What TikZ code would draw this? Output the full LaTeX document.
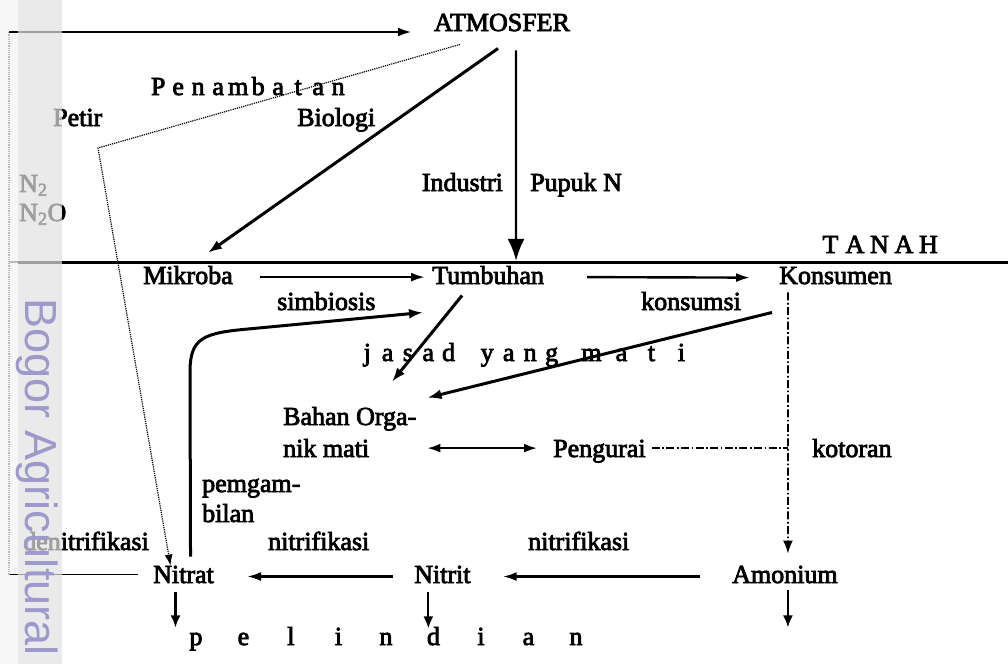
\documentclass[tikz,border=0pt]{standalone}
\usepackage{fontspec}
\setmainfont[FakeBold=3]{Liberation Serif}
\newfontfamily\wmfont{Liberation Sans}
\usetikzlibrary{arrows.meta}
\definecolor{wmpurple}{RGB}{158,153,203}
\definecolor{bandgray}{RGB}{226,226,226}

% letters set in equal-width cells, for the letter-spaced labels
\makeatletter
\newcommand\spreadtext[2]{\def\st@w{#1}\st@loop#2\relax}
\def\st@loop#1{\ifx\relax#1\else\makebox[\st@w]{#1}\expandafter\st@loop\fi}
\makeatother

\begin{document}
\begin{tikzpicture}[x=1pt,y=-1pt,
  lbl/.style={inner sep=0pt, font=\fontsize{26}{30}\selectfont},
  fat/.style={line width=3pt, -{Latex[length=14pt,width=10pt]}},
  flow/.style={line width=2.4pt, -{Latex[length=14pt,width=9pt]}},
  leach/.style={line width=2.2pt, -{Latex[length=12pt,width=10pt]}},
  dashdot/.style={line width=1.7pt, dash pattern=on 8pt off 2.5pt on 1.6pt off 2.5pt},
  bolt/.style={line width=1.2pt, densely dotted, -{Latex[length=11pt,width=8pt]}},
  thinpath/.style={line width=1.5pt}]

\fill[white] (0,0) rectangle (1008,664);
\fill[gray!6] (0,0) rectangle (18,664);
\useasboundingbox (0,0) rectangle (1008,664);

% ---- labels ----
\node[lbl, anchor=base] (atm) at (502,31) {ATMOSFER};
\node[lbl, anchor=base west] (pen) at (148,95) {\spreadtext{20pt}{Penambatan}};
\node[lbl, anchor=base west] (petir) at (53,126) {Petir};
\node[lbl, anchor=base west] (bio) at (297,126) {Biologi};
\node[lbl, anchor=base west] (n2) at (19,192) {N\textsubscript{2}};
\node[lbl, anchor=base west] (n2o) at (19,221) {N\textsubscript{2}O};
\node[lbl, anchor=base east] (ind) at (503,191) {Industri};
\node[lbl, anchor=base west] (pupuk) at (530,191) {Pupuk N};
\node[lbl, anchor=base west] (tanah) at (818,253) {\spreadtext{24.5pt}{TANAH}};
\node[lbl, anchor=base west] (mik) at (143,284) {Mikroba};
\node[lbl, anchor=base west] (tum) at (432,284) {Tumbuhan};
\node[lbl, anchor=base west] (kon) at (779,284) {Konsumen};
\node[lbl, anchor=base west] (simb) at (277,310) {simbiosis};
\node[lbl, anchor=base west] (kons) at (641,310) {konsumsi};
\node[lbl, anchor=base west] (jasad) at (357,361)
  {\spreadtext{20.3pt}{jasad}\hspace{17.75pt}\spreadtext{21.5pt}{yang}\hspace{14pt}\spreadtext{30pt}{mati}};
\node[lbl, anchor=base west] (bahA) at (283,425) {Bahan Orga-};
\node[lbl, anchor=base west] (bahB) at (283,457) {nik mati};
\node[lbl, anchor=base west] (peng) at (553,457) {Pengurai};
\node[lbl, anchor=base west] (kot) at (812,457) {kotoran};
\node[lbl, anchor=base west] (pemA) at (202,492) {pemgam-};
\node[lbl, anchor=base west] (pemB) at (202,522) {bilan};
\node[lbl, anchor=base west] (denit) at (23,550) {denitrifikasi};
\node[lbl, anchor=base west] (nitA) at (268,550) {nitrifikasi};
\node[lbl, anchor=base west] (nitB) at (528,550) {nitrifikasi};
\node[lbl, anchor=base west] (nitrat) at (153,583) {Nitrat};
\node[lbl, anchor=base west] (nitrit) at (414,583) {Nitrit};
\node[lbl, anchor=base west] (amon) at (732,583) {Amonium};
\node[lbl, anchor=base west] (pel) at (172,645) {\spreadtext{47.5pt}{pelindian}};

% ---- soil surface ----
\draw[line width=3pt] (18,262) -- (1008,262);
\draw[gray!55, line width=1.2pt] (9,262) -- (18,262);

% ---- denitrification back to the atmosphere ----
\coordinate (dnT) at (9,32);
\coordinate (atmIn) at ([shift={(-23,0)}]atm.south west);
\draw[thinpath] ([shift={(-15,0)}]nitrat.west) -- (nitrat.west -| dnT);
\draw[gray!55, line width=1.2pt, densely dotted] (nitrat.west -| dnT) -- (dnT);
\draw[thinpath, -{Latex[length=13pt,width=9pt]}] (dnT) -- (atmIn |- dnT);

% ---- lightning fixation ----
\coordinate (boltc) at (98,148);
\draw[bolt] ([shift={(-42,13)}]atm.south) -- (boltc) -- ([shift={(-13,0)}]nitrat.north);

% ---- biological fixation ----
\draw[fat] ([shift={(-4,17)}]atm.south) -- ([shift={(20,-13)}]mik.north);

% ---- industrial fertiliser ----
\draw[line width=2.2pt, -{Latex[length=22pt,width=17pt]}]
  ([shift={(14,19)}]atm.south) -- ([shift={(28,-5)}]tum.north);

% ---- surface chain ----
\draw[flow] ([shift={(27,2)}]mik.east) -- ([shift={(-7,2)}]tum.west);
\draw[flow] ([shift={(43,2)}]tum.east) -- ([shift={(-29,2)}]kon.west);

% ---- dead bodies to organic matter ----
\draw[fat] ([shift={(-26,11)}]tum.south) -- ([shift={(109,-25)}]bahA.north west);
\draw[fat] ([shift={(-7,28)}]kon.south west) -- ([shift={(11,-9)}]bahA.north east);

% ---- organic matter and decomposers ----
\coordinate (pgW) at ([shift={(-16,0)}]peng.west);
\coordinate (pgE) at ([shift={(6,0)}]peng.east);
\draw[line width=2.2pt, {Latex[length=13pt,width=9pt]}-{Latex[length=13pt,width=9pt]}]
  ([shift={(58,0)}]bahB.east) -- (pgW |- bahB.east);

% ---- excreta ----
\coordinate (kx) at ([shift={(9,0)}]kon.south west);
\draw[dashdot, -{Latex[length=13pt,width=10pt]}] ([shift={(0,8)}]kx) -- ([shift={(3,-12)}]amon.north);
\draw[dashdot] (pgE |- bahB.east) -- (kx |- bahB.east);

% ---- uptake by plants ----
\coordinate (upA) at (190,372);
\coordinate (upB) at (248,329);
\draw[fat] ([shift={(7,-9)}]nitrat.north) -- (upA)
  .. controls ([shift={(0,-34)}]upA) and ([shift={(-45,4)}]upB) .. (upB)
  -- ([shift={(-9,28)}]tum.south west);

% ---- nitrification ----
\draw[flow] ([shift={(-32,2)}]amon.west) -- ([shift={(32,2)}]nitrit.east);
\draw[flow] ([shift={(-21,2)}]nitrit.west) -- ([shift={(33,2)}]nitrat.east);

% ---- leaching ----
\draw[leach] ([shift={(-8,9)}]nitrat.south) -- ([shift={(-8,44)}]nitrat.south);
\draw[leach] ([shift={(-14,9)}]nitrit.south) -- ([shift={(-14,45)}]nitrit.south);
\draw[leach] ([shift={(3,7)}]amon.south) -- ([shift={(3,44)}]amon.south);

% ---- library stamp on the left margin ----
\fill[bandgray, opacity=0.7] (18,0) rectangle (62,664);
\node[anchor=base west, rotate=-90, inner sep=0pt, text=wmpurple,
      font=\wmfont\fontsize{45}{48}\selectfont] (wm) at (25,298) {Bogor Agricultural};
\end{tikzpicture}
\end{document}
